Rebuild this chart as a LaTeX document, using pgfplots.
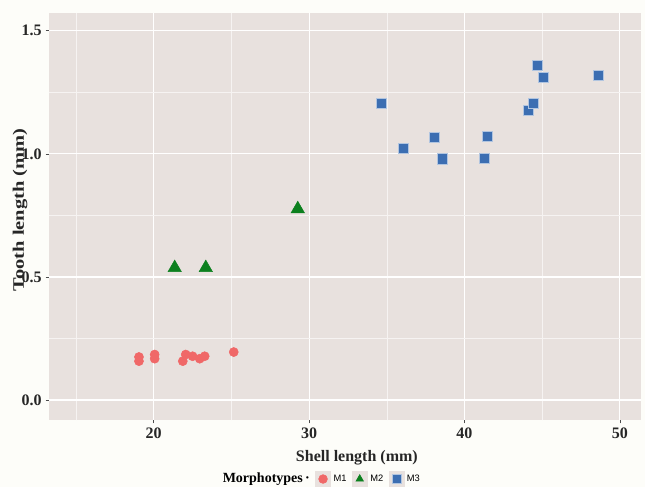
\documentclass[border=0pt]{standalone}
\usepackage{pgfplots}
\pgfplotsset{compat=1.18}
\usepackage{fontspec}
\setmainfont{Liberation Serif}
\newfontfamily\legsans{Liberation Sans}
\definecolor{pagebg}{RGB}{253,253,249}
\definecolor{panelbg}{RGB}{232,225,222}
\definecolor{mred}{RGB}{240,104,104}
\definecolor{mgreen}{RGB}{12,128,30}
\definecolor{mblue}{RGB}{60,110,178}
\begin{document}
\begin{tikzpicture}
\path[use as bounding box, fill=pagebg] (-36.75pt,-50.25pt) rectangle (447pt,315pt);
\begin{axis}[
  scale only axis,
  width=444pt, height=305.25pt,
  xmin=13.26, xmax=51.36, ymin=-0.081, ymax=1.572,
  axis background/.style={fill=panelbg},
  axis line style={draw=none},
  xtick={20,30,40,50}, ytick={0,0.5,1,1.5},
  minor xtick={15,25,35,45}, minor ytick={0.25,0.75,1.25},
  grid=both,
  major grid style={white, line width=0.9pt},
  minor grid style={white!60!panelbg, line width=0.45pt},
  tick pos=left, tick align=outside,
  major tick length=2.5pt, minor tick length=0pt,
  tick style={gray!60!black, line width=0.5pt},
  /pgf/number format/assume math mode=true,
  ticklabel style={font=\bfseries\fontsize{12}{14}\selectfont, text=black!85},
  yticklabel style={xshift=0.5pt, /pgf/number format/.cd, fixed, fixed zerofill, precision=1},
  xticklabel style={/pgf/number format/.cd, fixed, precision=0},
  xlabel={Shell length (mm)},
  ylabel={\scalebox{1.28}[1]{Tooth length (mm)}},
  label style={font=\bfseries\fontsize{12}{14}\selectfont, text=black!85},
  xlabel style={at={(axis description cs:0.52,-0.093)}, anchor=center},
  ylabel style={at={(axis description cs:-0.049,0.516)}, anchor=center, rotate=0},
  legend columns=-1,
  legend style={draw=none, fill=none, at={(axis description cs:0.46,-0.145)}, anchor=center,
    font=\legsans\fontsize{7}{8}\selectfont, /tikz/every even column/.append style={column sep=2pt}},
  legend image code/.code={%
    \fill[panelbg] (0.02cm,-0.2cm) rectangle (0.42cm,0.2cm);
    \draw[mark size=3.3pt] plot coordinates {(0.22cm,0cm)};},
]
\addlegendimage{empty legend}
\addlegendentry{\bfseries\rmfamily\fontsize{10.5}{12}\selectfont Morphotypes\,\textperiodcentered}

\addplot[only marks, mark=*, mark size=3.4pt, color=mred, fill=mred] coordinates {
(19.05,0.175) (19.05,0.158) (20.06,0.185) (20.06,0.168)
(21.87,0.158) (22.06,0.185) (22.5,0.178) (22.96,0.168)
(23.28,0.178) (25.15,0.195)
};
\addlegendentry{M1}

\addplot[only marks, mark=triangle*, mark size=5.8pt, color=mgreen, fill=mgreen] coordinates {
(21.35,0.537) (23.35,0.537) (29.27,0.776)
};
\addlegendentry{M2}

\addplot[only marks, mark=square*, mark size=3.8pt, draw=white!60!mblue, line width=0.4pt, fill=mblue] coordinates {
(34.66,1.206) (36.05,1.023) (38.07,1.068) (38.59,0.980)
(41.29,0.982) (41.44,1.073) (44.08,1.176) (44.40,1.206)
(44.68,1.359) (45.07,1.312) (48.59,1.320)
};
\addlegendentry{M3}
\end{axis}
\end{tikzpicture}
\end{document}
